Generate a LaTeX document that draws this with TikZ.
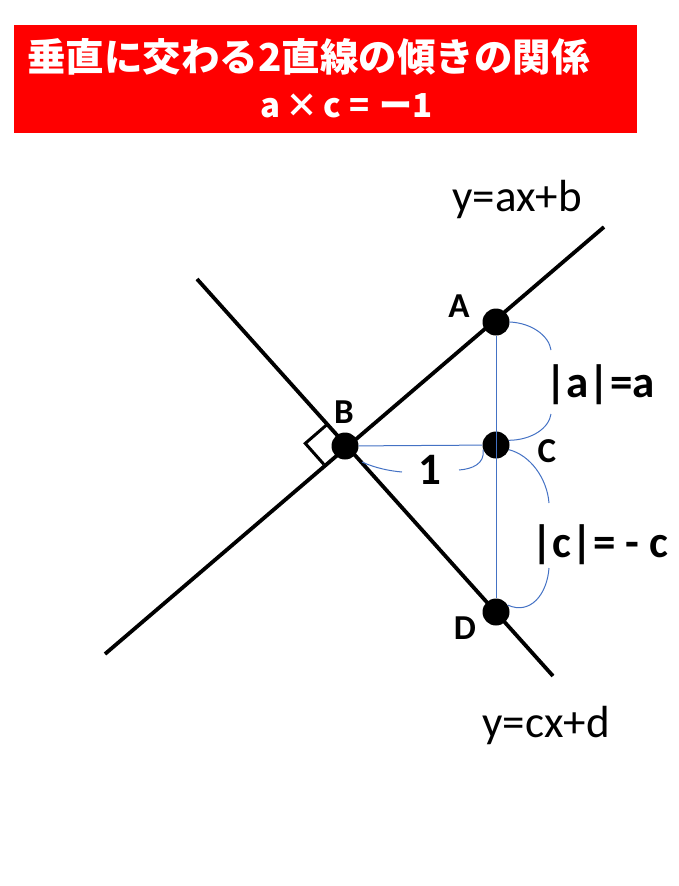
\documentclass[tikz,border=0pt]{standalone}
\usepackage{fontspec}
\setmainfont{Carlito}
\newfontfamily\cjk{Noto Sans CJK JP}
\usetikzlibrary{calc}
\definecolor{obl}{HTML}{4472C4}
\begin{document}
\begin{tikzpicture}[x=1pt,y=-1pt,
  thick line/.style={line width=3.8pt},
  aux/.style={draw=obl,line width=1pt},
  dot/.style={circle,fill=black,inner sep=0pt,minimum size=27pt},
  lbl/.style={font=\fontsize{35}{37}\selectfont\bfseries,inner sep=0pt},
  big/.style={font=\fontsize{45}{47}\selectfont\bfseries,inner sep=0pt},
  eq/.style={font=\fontsize{45}{47}\selectfont,inner sep=0pt}]
\path[use as bounding box] (0,0) rectangle (678,886);
% title
\fill[red] (14,25) rectangle (637,133);
\node[anchor=west,inner sep=0pt,text=white,font=\cjk\bfseries\fontsize{38.5}{40}\selectfont] (t1) at (27,57) {垂直に交わる2直線の傾きの関係};
\node[anchor=west,inner sep=0pt,text=white,font=\cjk\bfseries\fontsize{33}{35}\selectfont] (t2) at (260,106) {a\hspace{5pt}×\hspace{5pt}c\hspace{9pt}=\hspace{10pt}ー1};
% points
\coordinate (L1s) at (105,654);
\coordinate (L1e) at (604,227);
\coordinate (L2s) at (197,279);
\coordinate (L2e) at (553,676);
\node[dot] (A) at (496,322) {};
\node[dot] (B) at (345,446) {};
\node[dot] (C) at (496,445) {};
\node[dot] (D) at (496,612) {};
% blue aux lines
\draw[aux] (A) -- (D);
\draw[aux] (B) -- (C);
% main lines
\draw[thick line] (L1s) -- (L1e);
\draw[thick line] (L2s) -- (L2e);
% right angle
\coordinate (R1) at ($(B)!28pt!(L2s)$);
\coordinate (R2) at ($(B)!28pt!(L1s)$);
\draw[line width=3pt] (R1) -- ($(R1)+(R2)-(B)$) -- (R2);
% braces
\draw[aux] (A.east) .. controls (532,323) and (549,336) .. (551,350);
\draw[aux] (551,414) .. controls (549,428) and (532,440) .. (C.20);
\draw[aux] (C.-20) .. controls (530,455) and (547,478) .. (549,503);
\draw[aux] (549,568) .. controls (547,595) and (530,615) .. (D.30);
\draw[aux] (362,462) .. controls (375,468) and (390,471) .. (402,472);
\draw[aux] (459,470) .. controls (472,469) and (485,464) .. (C.-160);
% labels
\node[lbl] (la) at (459,306) {A};
\node[lbl] (lb) at (344,412) {B};
\node[lbl] (lc) at (547,451) {C};
\node[lbl] (ld) at (465,628) {D};
\node[big] (one) at (430,470) {1};
\node[big] (ea) at (600,385) {|a|=a};
\node[big] (ec) at (600,545) {|c|= - c};
\node[eq] (y1) at (517,199) {y=ax+b};
\node[eq] (y2) at (546,725) {y=cx+d};
\end{tikzpicture}
\end{document}
